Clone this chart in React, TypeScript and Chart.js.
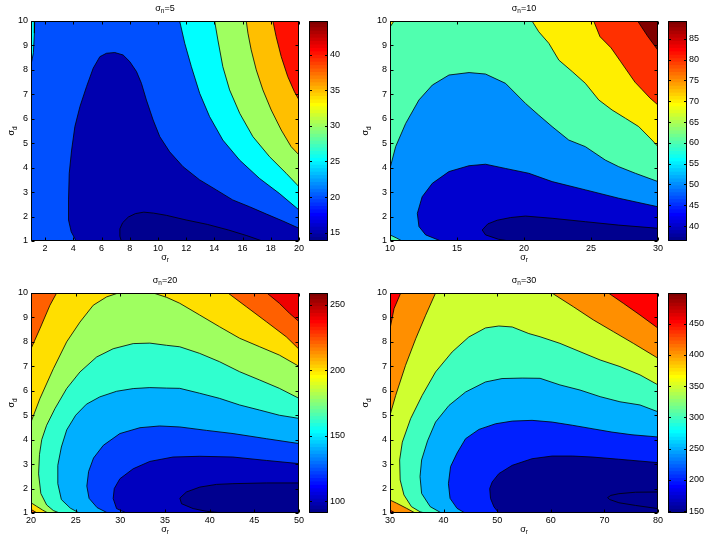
import React, { useEffect, useRef } from 'react';
import { Chart, registerables } from 'chart.js';

Chart.register(...registerables);

type Pt = [number, number];

// ---------------- text ----------------
const sigma = 'σ';
const titleSub = 'n';
const xLabelSub = 'r';
const yLabelSub = 'd';
const noiseLevels = ['5', '10', '20', '30'];

// ---------------- shared axis ----------------
const yRange: Pt = [1, 10];
const yTicks = [1, 2, 3, 4, 5, 6, 7, 8, 9, 10];

// ---------------- panel 1 (σn=5) ----------------
const p1XRange: Pt = [1, 20];
const p1XTicks = [2, 4, 6, 8, 10, 12, 14, 16, 18, 20];
const p1CRange: Pt = [13.85, 44.7];
const p1CTicks = [15, 20, 25, 30, 35, 40];
const p1BaseLevel = 20;
const p1Lump: Pt[] = [[4.2, 1], [3.85, 1.38], [3.66, 1.86], [3.66, 2.68], [3.71, 3.77], [3.88, 4.72], [4.11, 5.68], [4.47, 6.5], [4.94, 7.32], [5.41, 8.07], [5.88, 8.54], [6.35, 8.68], [6.94, 8.71], [7.53, 8.61], [8.0, 8.34], [8.48, 7.93], [8.83, 7.45], [9.18, 6.77], [9.66, 5.95], [10.13, 5.27], [10.83, 4.65], [11.78, 4.04], [12.96, 3.5], [14.14, 3.09], [15.3, 2.68], [16.5, 2.4], [17.7, 2.1], [18.85, 1.82], [20, 1.52], [20, 1]];
const p1Core: Pt[] = [[7.4, 1], [7.3, 1.2], [7.3, 1.5], [7.5, 1.75], [7.9, 1.98], [8.4, 2.12], [9.0, 2.18], [9.7, 2.14], [10.6, 2.05], [12.0, 1.86], [13.5, 1.68], [15.0, 1.45], [16.3, 1.22], [17.4, 1.0]];
const p1Cyan: Pt[] = [[11.54, 10], [11.9, 9.09], [12.37, 8.13], [12.96, 7.04], [13.66, 6.09], [14.6, 5.13], [15.79, 4.31], [17.2, 3.56], [18.6, 2.95], [20, 2.27], [20, 10]];
const p1Green: Pt[] = [[14.02, 10], [14.25, 9.22], [14.6, 8.13], [15.08, 7.18], [15.8, 6.22], [16.73, 5.27], [17.91, 4.45], [19.09, 3.77], [20, 3.22], [20, 10]];
const p1Orange: Pt[] = [[16.26, 10], [16.38, 9.5], [16.61, 8.82], [16.97, 8.0], [17.44, 7.18], [18.03, 6.36], [18.74, 5.54], [19.44, 4.86], [20, 4.52], [20, 10]];
const p1Red: Pt[] = [[18.15, 10], [18.38, 9.36], [18.74, 8.54], [19.2, 7.73], [19.68, 7.1], [20, 6.77], [20, 10]];
const p1Sliver: Pt[] = [[1, 10], [1.26, 10], [1.24, 9.5], [1.17, 8.7], [1.05, 8.35], [1, 8.3]];

// ---------------- panel 2 (σn=10) ----------------
const p2XRange: Pt = [10, 30];
const p2XTicks = [10, 15, 20, 25, 30];
const p2CRange: Pt = [36.4, 89.3];
const p2CTicks = [40, 45, 50, 55, 60, 65, 70, 75, 80, 85];
const p2BaseLevel = 60;
const p2LightBlue: Pt[] = [[10, 3.97], [10.42, 4.86], [11.17, 5.81], [12.16, 6.77], [13.16, 7.38], [14.4, 7.79], [15.9, 7.89], [17.13, 7.83], [18.62, 7.45], [20.11, 6.63], [21.1, 6.15], [22.1, 5.68], [23.34, 5.13], [24.58, 4.86], [26.07, 4.31], [27.07, 4.04], [28.31, 3.77], [30, 3.43], [30, 1], [10.9, 1], [10.5, 1.12], [10, 1.25]];
const p2Blue: Pt[] = [[13.8, 1], [12.66, 1.25], [12.16, 1.59], [12.04, 2.13], [12.4, 2.81], [13.16, 3.36], [14.4, 3.84], [15.9, 4.08], [17.13, 4.14], [18.6, 3.97], [20.36, 3.77], [22.1, 3.43], [24.6, 3.09], [27.07, 2.75], [30, 2.4], [30, 1]];
const p2Core: Pt[] = [[18.9, 1], [18.1, 1.07], [17.13, 1.25], [16.88, 1.45], [17.3, 1.7], [18, 1.85], [19, 1.96], [20.11, 2.02], [22.1, 1.93], [24.58, 1.79], [27.07, 1.65], [30, 1.52], [30, 1]];
const p2Yellow: Pt[] = [[20.6, 10], [21.1, 9.56], [21.85, 9.09], [22.6, 8.4], [23.6, 7.93], [24.58, 7.45], [25.58, 6.77], [26.57, 6.36], [27.57, 6.02], [28.56, 5.68], [29.55, 5.13], [30, 4.86], [30, 10]];
const p2Red: Pt[] = [[25.2, 10], [25.67, 9.36], [26.5, 8.9], [27.2, 8.35], [28.28, 7.5], [28.8, 7.2], [29.4, 6.85], [30, 6.56], [30, 10]];
const p2DarkRed: Pt[] = [[28.48, 10], [29.2, 9.4], [30, 8.8], [30, 10]];
const p2Corner: Pt[] = [[10, 10], [10.3, 10], [10, 9.75]];

// ---------------- panel 3 (σn=20) ----------------
const p3XRange: Pt = [20, 50];
const p3XTicks = [20, 25, 30, 35, 40, 45, 50];
const p3CRange: Pt = [91, 259];
const p3CTicks = [100, 150, 200, 250];
const p3BaseLevel = 180;
const p3Aqua: Pt[] = [[23.2, 1], [22.5, 1.1], [21.75, 1.33], [21.1, 1.8], [20.85, 2.6], [20.95, 3.4], [21.2, 4.0], [21.75, 4.59], [22.68, 5.27], [23.99, 6.09], [25.48, 6.77], [27.34, 7.38], [29.2, 7.72], [31.44, 7.93], [33.3, 7.95], [35.17, 7.86], [36.65, 7.8], [38.88, 7.53], [41.1, 7.19], [43.35, 6.78], [45.6, 6.44], [47.8, 6.1], [50, 5.69], [50, 1]];
const p3LightBlue: Pt[] = [[25.4, 1], [24.4, 1.2], [23.4, 1.55], [23.0, 2.2], [23.0, 2.95], [23.4, 3.7], [24.0, 4.4], [25.0, 5.0], [26.2, 5.45], [27.7, 5.75], [29.58, 5.98], [31.44, 6.09], [33.3, 6.13], [35.17, 6.11], [36.65, 6.1], [38.88, 5.9], [41.1, 5.69], [43.35, 5.42], [45.6, 5.21], [47.8, 5.0], [50, 4.87], [50, 1]];
const p3Blue: Pt[] = [[28.6, 1], [27.4, 1.22], [26.5, 1.6], [26.25, 2.1], [26.45, 2.7], [27.0, 3.25], [28.1, 3.77], [29.95, 4.25], [32.2, 4.49], [34.4, 4.56], [36.66, 4.52], [39.64, 4.38], [42.62, 4.25], [46.35, 4.04], [50, 3.84], [50, 1]];
const p3DarkBlue: Pt[] = [[30.7, 1], [29.58, 1.18], [29.2, 1.59], [29.32, 2.0], [29.95, 2.4], [31.44, 2.81], [33.3, 3.11], [35.9, 3.29], [38.9, 3.32], [42.6, 3.29], [46.35, 3.15], [50, 3.02], [50, 1]];
const p3Core: Pt[] = [[41.5, 1], [39.64, 1.07], [38.15, 1.18], [36.85, 1.38], [36.66, 1.61], [37.4, 1.86], [38.9, 2.06], [40.76, 2.17], [42.6, 2.2], [46.35, 2.23], [50, 2.23], [50, 1]];
const p3YellowL: Pt[] = [[20, 4.72], [21.0, 5.68], [22.5, 6.9], [23.99, 8.0], [25.48, 8.81], [26.97, 9.5], [28.46, 9.84], [29.77, 10], [20, 10]];
const p3YellowR: Pt[] = [[33.7, 10], [35.2, 9.82], [36.65, 9.58], [38.88, 9.1], [41.1, 8.62], [43.35, 8.15], [45.6, 7.8], [47.8, 7.46], [50, 7.0], [50, 10]];
const p3OrangeL: Pt[] = [[20, 7.72], [21.0, 8.54], [22.12, 9.5], [22.87, 10], [20, 10]];
const p3OrangeR: Pt[] = [[42.05, 10], [44.1, 9.44], [46.33, 8.83], [48.57, 8.21], [50, 7.7], [50, 10]];
const p3Red: Pt[] = [[46.4, 10], [47.8, 9.58], [48.94, 9.17], [50, 8.83], [50, 10]];
const p3YellowB: Pt[] = [[20, 1.42], [20.6, 1.28], [21.3, 1.12], [21.9, 1], [20, 1]];
const p3OrangeB: Pt[] = [[20, 1.15], [20.45, 1.05], [20.7, 1], [20, 1]];

// ---------------- panel 4 (σn=30) ----------------
const p4XRange: Pt = [30, 80];
const p4XTicks = [30, 40, 50, 60, 70, 80];
const p4CRange: Pt = [147, 499];
const p4CTicks = [150, 200, 250, 300, 350, 400, 450];
const p4BaseLevel = 350;
const p4Aqua: Pt[] = [[36.5, 1], [35.6, 1.05], [34.0, 1.26], [32.6, 1.74], [31.9, 2.35], [31.8, 3.17], [32.3, 3.9], [33.85, 4.86], [36.0, 5.81], [38.5, 6.77], [41.6, 7.59], [44.7, 8.2], [47.8, 8.57], [50.3, 8.65], [52.8, 8.61], [55.9, 8.34], [58.0, 8.21], [61.7, 7.94], [65.45, 7.6], [69.2, 7.26], [72.9, 6.99], [76.64, 6.65], [80, 6.24], [80, 1]];
const p4LightBlue: Pt[] = [[39.6, 1], [37.5, 1.26], [35.9, 1.8], [35.6, 2.49], [35.9, 3.17], [37.0, 3.95], [38.5, 4.72], [41.0, 5.4], [44.1, 5.95], [47.8, 6.36], [50.9, 6.5], [54.66, 6.52], [58.0, 6.51], [61.7, 6.24], [65.45, 6.03], [69.2, 5.76], [72.9, 5.55], [76.64, 5.42], [80, 5.14], [80, 1]];
const p4Blue: Pt[] = [[44.0, 1], [42.5, 1.19], [41.2, 1.6], [40.9, 2.2], [41.3, 2.9], [42.5, 3.45], [44.1, 4.04], [46.6, 4.42], [49.7, 4.65], [52.8, 4.76], [56.5, 4.79], [60.25, 4.72], [64, 4.59], [67.7, 4.45], [71.4, 4.31], [75.15, 4.2], [80, 4.11], [80, 1]];
const p4Navy: Pt[] = [[50.3, 1], [49.4, 1.25], [48.76, 1.59], [48.6, 2.0], [49.07, 2.27], [50.3, 2.61], [52.8, 2.95], [56.5, 3.22], [60.25, 3.33], [64, 3.33], [67.7, 3.29], [72.67, 3.2], [80, 3.06], [80, 1]];
const p4Core: Pt[] = [[80, 1.18], [75.8, 1.31], [72.7, 1.42], [71.0, 1.55], [70.6, 1.63], [71.2, 1.72], [72.7, 1.79], [75.8, 1.85], [80, 1.86]];
const p4OrangeL: Pt[] = [[30, 5.0], [31.06, 5.81], [32.9, 7.04], [34.8, 8.13], [36.65, 9.09], [38.5, 10], [30, 10]];
const p4RedL: Pt[] = [[30, 8.54], [30.75, 9.36], [32.0, 10], [30, 10]];
const p4OrangeR: Pt[] = [[60.2, 10], [64.2, 9.44], [67.93, 8.9], [71.66, 8.42], [75.4, 7.94], [78.5, 7.53], [80, 7.33], [80, 10]];
const p4RedR: Pt[] = [[70.74, 10], [73.53, 9.58], [76.64, 9.1], [80, 8.56], [80, 10]];
const p4OrangeB: Pt[] = [[30, 1.53], [31.25, 1.4], [33.1, 1.19], [34.7, 1], [30, 1]];
const p4RedB: Pt[] = [[30, 1.12], [31.0, 1], [30, 1]];

type Region = { level: number; pts: Pt[] };
type PanelData = { noise: string; xRange: Pt; xTicks: number[]; cRange: Pt; cTicks: number[]; base: number; regions: Region[] };

const panels: PanelData[] = [
  {
    noise: noiseLevels[0], xRange: p1XRange, xTicks: p1XTicks, cRange: p1CRange, cTicks: p1CTicks, base: p1BaseLevel,
    regions: [
      { level: 15, pts: p1Lump }, { level: 13.85, pts: p1Core }, { level: 25, pts: p1Cyan },
      { level: 30, pts: p1Green }, { level: 35, pts: p1Orange }, { level: 40, pts: p1Red }, { level: 25, pts: p1Sliver },
    ],
  },
  {
    noise: noiseLevels[1], xRange: p2XRange, xTicks: p2XTicks, cRange: p2CRange, cTicks: p2CTicks, base: p2BaseLevel,
    regions: [
      { level: 50, pts: p2LightBlue }, { level: 40, pts: p2Blue }, { level: 36.4, pts: p2Core },
      { level: 70, pts: p2Yellow }, { level: 80, pts: p2Red }, { level: 89.3, pts: p2DarkRed }, { level: 70, pts: p2Corner },
    ],
  },
  {
    noise: noiseLevels[2], xRange: p3XRange, xTicks: p3XTicks, cRange: p3CRange, cTicks: p3CTicks, base: p3BaseLevel,
    regions: [
      { level: 160, pts: p3Aqua }, { level: 140, pts: p3LightBlue }, { level: 120, pts: p3Blue },
      { level: 100, pts: p3DarkBlue }, { level: 91, pts: p3Core },
      { level: 200, pts: p3YellowL }, { level: 200, pts: p3YellowR }, { level: 220, pts: p3OrangeL },
      { level: 220, pts: p3OrangeR }, { level: 240, pts: p3Red }, { level: 200, pts: p3YellowB }, { level: 220, pts: p3OrangeB },
    ],
  },
  {
    noise: noiseLevels[3], xRange: p4XRange, xTicks: p4XTicks, cRange: p4CRange, cTicks: p4CTicks, base: p4BaseLevel,
    regions: [
      { level: 300, pts: p4Aqua }, { level: 250, pts: p4LightBlue }, { level: 200, pts: p4Blue },
      { level: 150, pts: p4Navy }, { level: 147, pts: p4Core },
      { level: 400, pts: p4OrangeL }, { level: 450, pts: p4RedL }, { level: 400, pts: p4OrangeR },
      { level: 450, pts: p4RedR }, { level: 400, pts: p4OrangeB }, { level: 450, pts: p4RedB },
    ],
  },
];

// ---------------- layout / style ----------------
const FONT = '"Liberation Sans", Arial, Helvetica, sans-serif';
const TICK_SIZE = 9;
const LABEL_SIZE = 9;
const PLOT_W = 268;
const PLOT_H = 220;
const CB_W = 19;
const AX_L = 31;
const AX_T = 21;
const AX_R = 12;
const AX_B = 31;
type Frame = { left: number; top: number; cbLeft: number; yLab: number };
const frames: Frame[] = [
  { left: 31, top: 21, cbLeft: 309, yLab: 16.6 },
  { left: 390, top: 21, cbLeft: 668, yLab: 22.2 },
  { left: 31, top: 293, cbLeft: 309, yLab: 16.6 },
  { left: 390, top: 293, cbLeft: 668, yLab: 22.2 },
];

function jetRGB(k: number): string {
  const i = k + 1;
  let r = 0, g = 0, b = 0;
  if (i <= 8) { b = (8 + i) / 16; }
  else if (i <= 24) { g = (i - 8) / 16; b = 1; }
  else if (i <= 40) { r = (i - 24) / 16; g = 1; b = 1 - (i - 24) / 16; }
  else if (i <= 56) { r = 1; g = 1 - (i - 40) / 16; }
  else { r = 1 - (i - 56) / 16; }
  return `rgb(${Math.round(r * 255)},${Math.round(g * 255)},${Math.round(b * 255)})`;
}

function levelColor(v: number, range: Pt): string {
  const k = Math.max(0, Math.min(63, Math.floor(((v - range[0]) / (range[1] - range[0])) * 64)));
  return jetRGB(k);
}

function drawSub(ctx: CanvasRenderingContext2D, base: string, sub: string, rest: string, cx: number, baseline: number, size: number) {
  const big = `${size}px ${FONT}`;
  const small = `${size * 0.72}px ${FONT}`;
  ctx.font = big;
  const wb = ctx.measureText(base).width;
  const wr = ctx.measureText(rest).width;
  ctx.font = small;
  const ws = ctx.measureText(sub).width;
  let x = cx - (wb + ws + wr) / 2;
  ctx.fillStyle = '#000';
  ctx.textAlign = 'left';
  ctx.textBaseline = 'alphabetic';
  ctx.font = big;
  ctx.fillText(base, x, baseline);
  x += wb;
  ctx.font = small;
  ctx.fillText(sub, x, baseline + size * 0.3);
  x += ws;
  ctx.font = big;
  if (rest) ctx.fillText(rest, x, baseline);
}

function contourConfig(p: PanelData, f: Frame): any {
  const [x0, x1] = p.xRange;
  const [y0, y1] = yRange;
  const bg: Pt[] = [[x0, y0], [x1, y0], [x1, y1], [x0, y1]];
  const all = [{ level: p.base, pts: bg, edge: false }, ...p.regions.map((r) => ({ ...r, edge: true }))];
  const N = all.length;
  const datasets = all.map((r, i) => ({
    data: [...r.pts, r.pts[0]].map(([x, y]) => ({ x, y })),
    fill: 'shape',
    backgroundColor: levelColor(r.level, p.cRange),
    borderColor: '#000',
    borderWidth: r.edge ? 0.8 : 0,
    pointRadius: 0,
    pointHoverRadius: 0,
    pointHitRadius: 0,
    tension: 0,
    order: N - i,
  }));
  const frame = {
    id: 'frame',
    afterDatasetsDraw(chart: any) {
      const { ctx, chartArea: a, scales } = chart;
      ctx.save();
      ctx.strokeStyle = '#000';
      ctx.lineWidth = 1;
      ctx.beginPath();
      const L = a.left + 0.5, R = a.right - 0.5, T = a.top + 0.5, B = a.bottom - 0.5;
      ctx.rect(L, T, R - L, B - T);
      for (const v of p.xTicks) {
        const px = Math.round(scales.x.getPixelForValue(v)) + 0.5;
        ctx.moveTo(px, B); ctx.lineTo(px, B - 3);
        ctx.moveTo(px, T); ctx.lineTo(px, T + 3);
      }
      for (const v of yTicks) {
        const py = Math.round(scales.y.getPixelForValue(v)) + 0.5;
        ctx.moveTo(L, py); ctx.lineTo(L + 3, py);
        ctx.moveTo(R, py); ctx.lineTo(R - 3, py);
      }
      ctx.stroke();
      ctx.restore();
    },
    afterDraw(chart: any) {
      const { ctx, chartArea: a } = chart;
      const cx = (a.left + a.right) / 2;
      ctx.save();
      drawSub(ctx, sigma, titleSub, '=' + p.noise, cx, a.top - 10.5, LABEL_SIZE);
      drawSub(ctx, sigma, xLabelSub, '', cx, a.bottom + 18.5, LABEL_SIZE);
      ctx.translate(a.left - f.yLab, (a.top + a.bottom) / 2);
      ctx.rotate(-Math.PI / 2);
      drawSub(ctx, sigma, yLabelSub, '', 0, 0, LABEL_SIZE);
      ctx.restore();
    },
  };
  return {
    type: 'line',
    data: { datasets },
    options: {
      responsive: false,
      animation: false,
      events: [],
      layout: { padding: { top: AX_T, right: AX_R, left: 0, bottom: 0 } },
      plugins: { legend: { display: false }, tooltip: { enabled: false }, title: { display: false } },
      scales: {
        x: {
          type: 'linear', min: x0, max: x1,
          grid: { display: false, drawTicks: false },
          border: { display: false },
          ticks: { font: { family: FONT, size: TICK_SIZE }, color: '#000', padding: 2, autoSkip: false, maxRotation: 0 },
          afterBuildTicks: (s: any) => { s.ticks = p.xTicks.map((v) => ({ value: v })); },
          afterFit: (s: any) => { s.height = AX_B; },
        },
        y: {
          type: 'linear', min: y0, max: y1,
          grid: { display: false, drawTicks: false },
          border: { display: false },
          ticks: { font: { family: FONT, size: TICK_SIZE }, color: '#000', padding: 3, autoSkip: false },
          afterBuildTicks: (s: any) => { s.ticks = yTicks.map((v) => ({ value: v })); },
          afterFit: (s: any) => { s.width = AX_L; },
        },
      },
    },
    plugins: [frame],
  };
}

function colorbarConfig(p: PanelData): any {
  const [c0, c1] = p.cRange;
  const datasets = Array.from({ length: 64 }, (_, k) => ({
    data: [[c0 + ((c1 - c0) * k) / 64, c0 + ((c1 - c0) * (k + 1)) / 64]],
    backgroundColor: jetRGB(k),
    borderWidth: 0,
    grouped: false,
    barPercentage: 1,
    categoryPercentage: 1,
    inflateAmount: 0.6,
  }));
  const frame = {
    id: 'cbframe',
    afterDatasetsDraw(chart: any) {
      const { ctx, chartArea: a, scales } = chart;
      ctx.save();
      ctx.strokeStyle = '#000';
      ctx.lineWidth = 1;
      ctx.beginPath();
      const L = a.left + 0.5, R = a.right - 0.5, T = a.top + 0.5, B = a.bottom - 0.5;
      ctx.rect(L, T, R - L, B - T);
      for (const v of p.cTicks) {
        const py = Math.round(scales.y.getPixelForValue(v)) + 0.5;
        ctx.moveTo(L, py); ctx.lineTo(L + 2.5, py);
        ctx.moveTo(R, py); ctx.lineTo(R - 2.5, py);
      }
      ctx.stroke();
      ctx.restore();
    },
  };
  return {
    type: 'bar',
    data: { labels: [''], datasets },
    options: {
      responsive: false,
      animation: false,
      events: [],
      layout: { padding: { top: 10, bottom: 10, left: 0, right: 0 } },
      plugins: { legend: { display: false }, tooltip: { enabled: false } },
      scales: {
        x: { display: false },
        y: {
          position: 'right', min: c0, max: c1,
          grid: { display: false, drawTicks: false },
          border: { display: false },
          ticks: { font: { family: FONT, size: TICK_SIZE }, color: '#000', padding: 2, autoSkip: false },
          afterBuildTicks: (s: any) => { s.ticks = p.cTicks.map((v) => ({ value: v })); },
          afterFit: (s: any) => { s.width = 30; },
        },
      },
    },
    plugins: [frame],
  };
}

function Panel({ p, f }: { p: PanelData; f: Frame }) {
  const plotRef = useRef<HTMLCanvasElement>(null);
  const cbRef = useRef<HTMLCanvasElement>(null);
  useEffect(() => {
    const c1 = new Chart(plotRef.current as HTMLCanvasElement, contourConfig(p, f));
    const c2 = new Chart(cbRef.current as HTMLCanvasElement, colorbarConfig(p));
    return () => { c1.destroy(); c2.destroy(); };
  }, [p, f]);
  const cw = AX_L + PLOT_W + AX_R;
  const ch = AX_T + PLOT_H + AX_B;
  const bw = CB_W + 30;
  const bh = PLOT_H + 20;
  return (
    <>
      <canvas ref={plotRef} width={cw} height={ch}
        style={{ position: 'absolute', left: f.left - AX_L, top: f.top - AX_T, width: cw, height: ch }} />
      <canvas ref={cbRef} width={bw} height={bh}
        style={{ position: 'absolute', left: f.cbLeft, top: f.top - 10, width: bw, height: bh }} />
    </>
  );
}

export default function App() {
  return (
    <div style={{ position: 'absolute', left: 0, top: 0, width: 704, height: 543, overflow: 'hidden', background: '#fff' }}>
      {panels.map((p, i) => (
        <Panel key={i} p={p} f={frames[i]} />
      ))}
    </div>
  );
}
